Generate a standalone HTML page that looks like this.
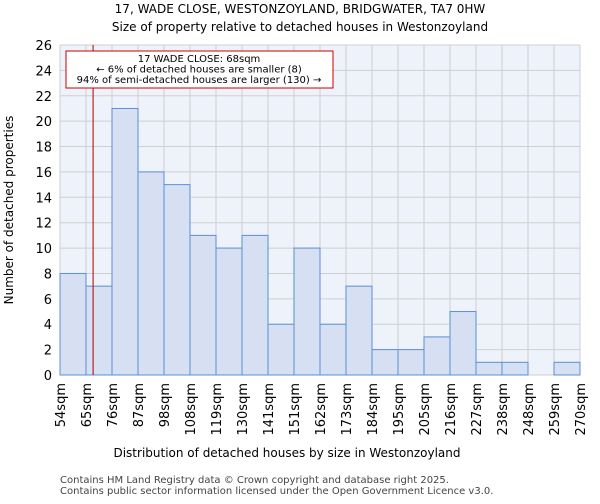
<!DOCTYPE html>
<html><head><meta charset="utf-8"><style>
body{margin:0;background:#fff;font-family:"DejaVu Sans","Liberation Sans",sans-serif;}
</style></head><body>
<svg width="600" height="500" xmlns="http://www.w3.org/2000/svg" font-family="DejaVu Sans, Liberation Sans, sans-serif">
<text x="300" y="13" text-anchor="middle" font-size="12">17, WADE CLOSE, WESTONZOYLAND, BRIDGWATER, TA7 0HW</text>
<text x="300" y="31" text-anchor="middle" font-size="12">Size of property relative to detached houses in Westonzoyland</text>
<rect x="60" y="45" width="520" height="330" fill="#eef2fb"/>
<g id="grid"></g><g id="bars"></g><g id="axes"></g>
<text x="287" y="457" text-anchor="middle" font-size="12">Distribution of detached houses by size in Westonzoyland</text>
<text transform="translate(13,210) rotate(-90)" text-anchor="middle" font-size="12">Number of detached properties</text>
<text x="60" y="483" font-size="10" fill="#444">Contains HM Land Registry data © Crown copyright and database right 2025.</text>
<text x="60" y="494" font-size="10" fill="#444">Contains public sector information licensed under the Open Government Licence v3.0.</text>
</svg>
<script>
const categories=["54sqm","65sqm","76sqm","87sqm","98sqm","108sqm","119sqm","130sqm","141sqm","151sqm","162sqm","173sqm","184sqm","195sqm","205sqm","216sqm","227sqm","238sqm","248sqm","259sqm","270sqm"];
const values=[8,7,21,16,15,11,10,11,4,10,4,7,2,2,3,5,1,1,0,1];
const yTicks=[0,2,4,6,8,10,12,14,16,18,20,22,24,26];
const binEdges=[54,65,76,87,98,108,119,130,141,151,162,173,184,195,205,216,227,238,248,259,270];
const propertySize=68;
const NS="http://www.w3.org/2000/svg";
const x0=60,x1=580,y0=375,y1=45,yMax=26;
const bw=(x1-x0)/values.length;
const X=i=>x0+i*bw, Y=v=>y0-(v/yMax)*(y0-y1);
function mk(t,a,p){const e=document.createElementNS(NS,t);for(const k in a)e.setAttribute(k,a[k]);p.appendChild(e);return e;}
const grid=document.getElementById('grid'),bars=document.getElementById('bars'),axes=document.getElementById('axes');
yTicks.forEach(t=>{
 const l=mk('line',{x1:x0,x2:x1,y1:Y(t),y2:Y(t),stroke:'#cfcfcf','stroke-width':1},grid);
 
 
 const tx=mk('text',{x:x0-8,y:Y(t)+5,'text-anchor':'end','font-size':13},axes);tx.textContent=t;
 
 
});
categories.forEach((c,i)=>{
 const l=mk('line',{x1:X(i),x2:X(i),y1:y1,y2:y0,stroke:'#cfcfcf','stroke-width':1},grid);
 
 
 const tx=mk('text',{transform:`translate(${X(i)+5},${y0+8}) rotate(-90)`,'text-anchor':'end','font-size':13},axes);tx.textContent=c;
 
 
});
values.forEach((v,i)=>{
 if(v<=0)return;
 const r=mk('rect',{x:X(i),y:Y(v),width:bw,height:y0-Y(v),fill:'#d6e0f2',stroke:'#5b8fd6','stroke-width':1},bars);
 
 
});
let bi=0;while(bi<binEdges.length-2&&propertySize>binEdges[bi+1])bi++;
const mx=X(bi)+(propertySize-binEdges[bi])/(binEdges[bi+1]-binEdges[bi])*bw;
const ml=mk('line',{x1:mx,x2:mx,y1:y1,y2:y0,stroke:'#a00','stroke-width':1},axes);


const box=mk('rect',{x:66,y:51,width:267,height:37,fill:'#fff',stroke:'#c00','stroke-width':1},axes);


["17 WADE CLOSE: 68sqm","← 6% of detached houses are smaller (8)","94% of semi-detached houses are larger (130) →"].forEach((s,k)=>{
 const t=mk('text',{x:199,y:62+k*10.5,'text-anchor':'middle','font-size':10},axes);t.textContent=s;
 
 
});
</script>
</body></html>
